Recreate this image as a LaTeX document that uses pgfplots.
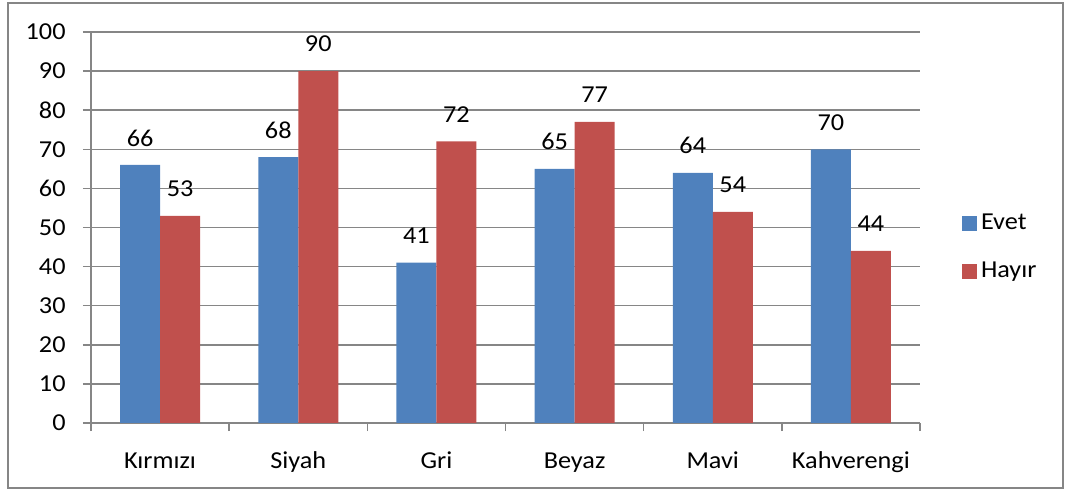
\documentclass[border=0pt]{standalone}
\usepackage{pgfplots}
\pgfplotsset{compat=1.18}
\usepackage{fontspec}
\setmainfont{Carlito}[FakeStretch=1.08]
\definecolor{cblue}{HTML}{4F81BD}
\definecolor{cred}{HTML}{C0504D}
\definecolor{cgrid}{HTML}{868686}
\begin{document}
\fontsize{12.2}{14}\selectfont
\begin{tikzpicture}
\useasboundingbox (-45.5bp,-34bp) rectangle (488.5bp,211.5bp);
\draw[cgrid, line width=1bp] (-41.5bp,-32.5bp) rectangle (486bp,210bp);
\begin{axis}[
  at={(0,0)}, anchor=south west,
  scale only axis,
  width=414.5bp, height=195.5bp,
  xmin=-0.5, xmax=5.5, ymin=0, ymax=100,
  ytick={0,10,...,100},
  ymajorgrids, grid style={cgrid, line width=0.75bp},
  axis line style={cgrid, line width=0.75bp},
  axis x line*=bottom, axis y line*=left,
  hide obscured x ticks=false,
  /pgf/number format/assume math mode=true,
  tick align=outside,
  major tick length=4bp,
  tick style={cgrid, line width=0.75bp},
  ytick pos=left,
  xtick={-0.5,0.5,1.5,2.5,3.5,4.5,5.5},
  xticklabels={},
  extra x ticks={0,1,2,3,4,5},
  extra x tick labels={Kırmızı,Siyah,Gri,Beyaz,Mavi,Kahverengi},
  extra x tick style={grid=none, major tick length=0pt,
     xticklabel style={anchor=base, yshift=-22.5bp}},
  yticklabel style={anchor=east, inner sep=0pt, xshift=-8.5bp},
  ybar, bar width=20bp,
  nodes near coords,
  every node near coord/.append style={anchor=center, yshift=13.5bp, inner sep=0pt, text=black},
  legend style={draw=none, at={(1.0507,0.449)}, anchor=west, inner sep=0pt, outer sep=0pt,
    row sep=10.5bp, cells={anchor=west}, font=\fontsize{12.2}{14}\selectfont},
  legend image code/.code={\fill[#1] (0bp,-3.75bp) rectangle (7.5bp,3.75bp);},
]
\addplot[fill=cblue, draw=none, bar shift=-10bp] coordinates {(0,66) (1,68) (2,41) (3,65) (4,64) (5,70)};
\addplot[fill=cred, draw=none, bar shift=10bp] coordinates {(0,53) (1,90) (2,72) (3,77) (4,54) (5,44)};
\legend{Evet,Hayır}
\end{axis}
\end{tikzpicture}
\end{document}
